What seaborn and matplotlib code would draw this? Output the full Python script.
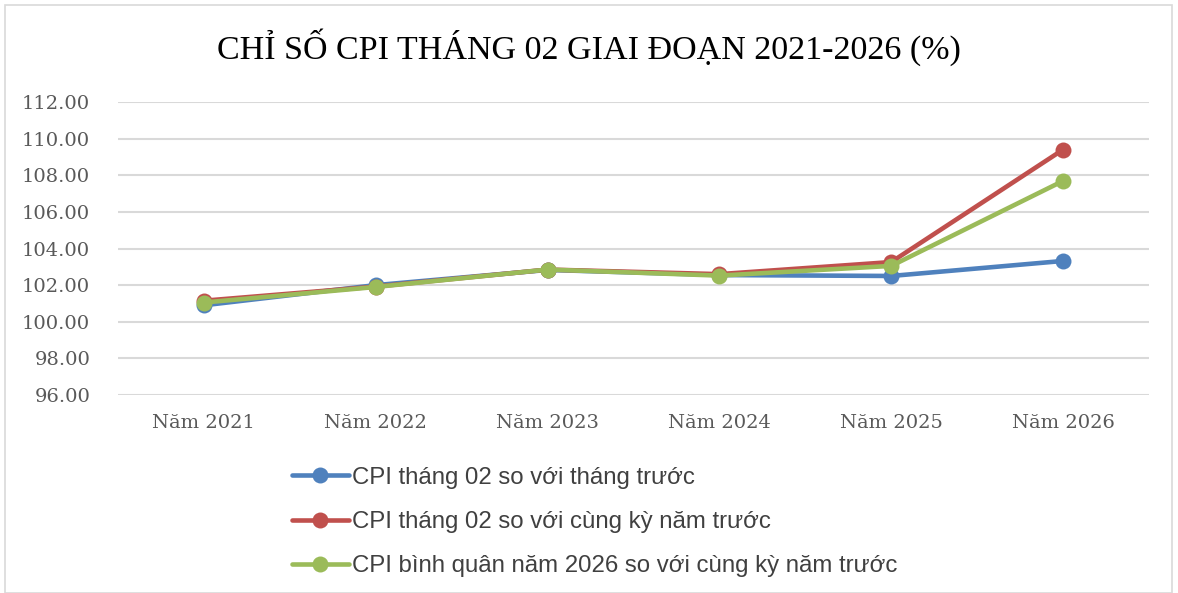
import pandas as pd
import numpy as np
import matplotlib.pyplot as plt
import seaborn as sns

# data
years = ["Năm 2021", "Năm 2022", "Năm 2023", "Năm 2024", "Năm 2025", "Năm 2026"]
cpi_mom = [100.90, 102.00, 102.83, 102.55, 102.50, 103.32]
cpi_yoy = [101.15, 101.92, 102.85, 102.60, 103.26, 109.40]
cpi_avg = [101.05, 101.90, 102.85, 102.52, 103.05, 107.69]

series_names = [
    "CPI tháng 02 so với tháng trước",
    "CPI tháng 02 so với cùng kỳ năm trước",
    "CPI bình quân năm 2026 so với cùng kỳ năm trước",
]
colors = ["#4f81bd", "#c0504d", "#9bbb59"]
y_ticks = [96, 98, 100, 102, 104, 106, 108, 110, 112]

df = pd.DataFrame({
    "year": years * 3,
    "value": cpi_mom + cpi_yoy + cpi_avg,
    "series": [series_names[0]] * 6 + [series_names[1]] * 6 + [series_names[2]] * 6,
})
df["x"] = df["year"].map({y: i for i, y in enumerate(years)})

sns.set_style("white")

fig = plt.figure(figsize=(11.78, 5.93), dpi=100)
ax = fig.add_axes([118 / 1178, 1 - 395 / 593, (1149 - 118) / 1178, (395 - 102) / 593])

sns.lineplot(data=df, x="x", y="value", hue="series", palette=colors,
             hue_order=series_names, marker="o", markersize=11.5, linewidth=3.3,
             markeredgewidth=0, ax=ax, legend=False)

ax.set_xlim(-0.5, 5.5)
ax.set_ylim(96, 112)
ax.set_yticks(y_ticks)
ax.set_yticklabels([f"{v:.2f}" for v in y_ticks], family="DejaVu Serif",
                   fontsize=14, color="#595959")
ax.set_xticks(range(len(years)))
ax.set_xticklabels(years, family="DejaVu Serif", fontsize=14, color="#595959")
ax.tick_params(axis="both", length=0)
ax.tick_params(axis="x", pad=14)
ax.tick_params(axis="y", pad=20)
ax.yaxis.grid(True, color="#d9d9d9", linewidth=1.5)
ax.set_axisbelow(True)
for s in ax.spines.values():
    s.set_visible(False)
ax.set_xlabel("")
ax.set_ylabel("")

fig.text(0.5, 1 - 47 / 593, "CHỈ SỐ CPI THÁNG 02 GIAI ĐOẠN 2021-2026 (%)",
         ha="center", va="center", family="Liberation Serif", fontsize=24.5,
         color="black")

# legend
handles = [plt.Line2D([], [], color=c, linewidth=3.3, marker="o", markersize=11.5,
                      markeredgewidth=0) for c in colors]
fig.legend(handles, series_names, loc="upper left",
           bbox_to_anchor=(270 / 1178, 1 - 445 / 593), frameon=False,
           prop={"family": "Liberation Sans", "size": 17.3}, labelcolor="#404040",
           handlelength=2.4, handletextpad=0.1, labelspacing=0.93)

# chart frame
fig.patches.append(plt.Rectangle((5 / 1178, 0), 1167 / 1178, 1 - 5 / 593,
                                 transform=fig.transFigure, fill=False,
                                 edgecolor="#d9d9d9", linewidth=1.2))

fig.savefig("out.png", dpi=100)
